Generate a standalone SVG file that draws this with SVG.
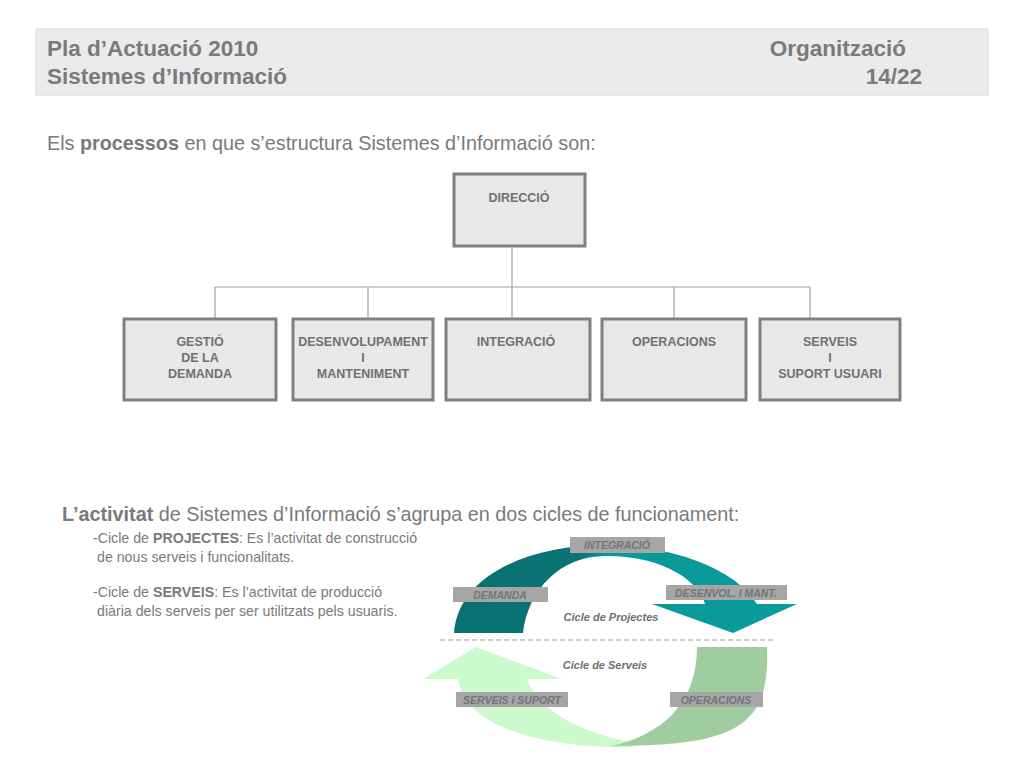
<svg xmlns="http://www.w3.org/2000/svg" width="1024" height="768" viewBox="0 0 1024 768">
<defs>
<style>
text{font-family:"Liberation Sans",Arial,sans-serif;}
.hdr{font-size:22.5px;font-weight:bold;fill:#7a7a7a;}
.body{font-size:19.8px;fill:#7a7a7a;}
.small{font-size:14.2px;fill:#7a7a7a;}
.b{font-weight:bold;}
.box{fill:#e8e8e8;stroke:#808080;stroke-width:3;}
.bt{font-size:12.5px;font-weight:bold;fill:#707070;text-anchor:middle;}
.conn{stroke:#a0a0a0;stroke-width:1.2;fill:none;}
.lbl{fill:#a6a6a6;}
.lt{font-size:10.5px;font-weight:bold;font-style:italic;fill:#747474;text-anchor:middle;}
.cap{font-size:11px;font-weight:bold;font-style:italic;fill:#6e6e6e;text-anchor:middle;}
</style>
<linearGradient id="teal" gradientUnits="userSpaceOnUse" x1="454" y1="0" x2="797" y2="0">
<stop offset="0" stop-color="#0a7070"/>
<stop offset="0.36" stop-color="#0a7474"/>
<stop offset="0.45" stop-color="#0a9898"/>
<stop offset="1" stop-color="#0a9c9c"/>
</linearGradient>
</defs>
<rect width="1024" height="768" fill="#ffffff"/>

<g id="header">
<rect x="36" y="29" width="952" height="66" fill="#ebebeb" stroke="#dadada" stroke-width="1"/>
<text class="hdr" x="47" y="56">Pla d’Actuació 2010</text>
<text class="hdr" x="47" y="84">Sistemes d’Informació</text>
<text class="hdr" x="906" y="56" text-anchor="end">Organització</text>
<text class="hdr" x="922" y="84" text-anchor="end">14/22</text>
</g>

<text class="body" x="47" y="150">Els <tspan class="b">processos</tspan> en que s’estructura Sistemes d’Informació son:</text>

<g id="connectors">
<line class="conn" x1="512" y1="247" x2="512" y2="319"/>
<line class="conn" x1="215" y1="287" x2="810" y2="287"/>
<line class="conn" x1="215" y1="287" x2="215" y2="319"/>
<line class="conn" x1="368" y1="287" x2="368" y2="319"/>
<line class="conn" x1="674" y1="287" x2="674" y2="319"/>
<line class="conn" x1="810" y1="287" x2="810" y2="319"/>
</g>

<g id="direccio">
<rect class="box" x="454" y="174" width="131" height="72"/>
<text class="bt" x="519" y="202">DIRECCIÓ</text>
</g>
<g id="gestio">
<rect class="box" x="124" y="319" width="152" height="81"/>
<text class="bt" x="200" y="346">GESTIÓ</text>
<text class="bt" x="200" y="362">DE LA</text>
<text class="bt" x="200" y="378">DEMANDA</text>
</g>
<g id="desenvolupament">
<rect class="box" x="293" y="319" width="140" height="81"/>
<text class="bt" x="363" y="346">DESENVOLUPAMENT</text>
<text class="bt" x="363" y="362">I</text>
<text class="bt" x="363" y="378">MANTENIMENT</text>
</g>
<g id="integracio">
<rect class="box" x="446" y="319" width="144" height="81"/>
<text class="bt" x="516" y="346">INTEGRACIÓ</text>
</g>
<g id="operacions">
<rect class="box" x="602" y="319" width="144" height="81"/>
<text class="bt" x="674" y="346">OPERACIONS</text>
</g>
<g id="serveis">
<rect class="box" x="760" y="319" width="140" height="81"/>
<text class="bt" x="830" y="346">SERVEIS</text>
<text class="bt" x="830" y="362">I</text>
<text class="bt" x="830" y="378">SUPORT USUARI</text>
</g>

<text class="body" x="62" y="521"><tspan class="b">L’activitat</tspan> de Sistemes d’Informació s’agrupa en dos cicles de funcionament:</text>
<text class="small" x="93" y="543">-Cicle de <tspan class="b">PROJECTES</tspan>: Es l’activitat de construcció</text>
<text class="small" x="97" y="562">de nous serveis i funcionalitats.</text>
<text class="small" x="93" y="597">-Cicle de <tspan class="b">SERVEIS</tspan>: Es l’activitat de producció</text>
<text class="small" x="97" y="616">diària dels serveis per ser utilitzats pels usuaris.</text>

<g id="cycles">
<path fill="url(#teal)" d="M454,633 C458,575 530,545 605,545 C670,545 735,568 757,604 L797,604 L733,633 L652,604 L705,604 C700,585 670,556 605,556 C560,556 528,590 523,633 Z"/>
<path fill="#ccfacc" d="M423,679 L476,647 L562,679 L527,679 C540,715 590,735 640,744 L630,747 C545,748 465,728 458,679 Z"/>
<path fill="#9fcd9f" d="M697,647 L767,647 C770,725 740,746 612,746 C660,735 697,705 697,647 Z"/>
<line x1="440" y1="640" x2="775" y2="640" stroke="#a0a0a0" stroke-width="1.2" stroke-dasharray="5,3"/>
<rect class="lbl" x="570" y="537" width="95" height="16"/>
<text class="lt" x="617" y="549">INTEGRACIÓ</text>
<rect class="lbl" x="453" y="587" width="95" height="15"/>
<text class="lt" x="500" y="599">DEMANDA</text>
<rect class="lbl" x="666" y="585" width="121" height="15"/>
<text class="lt" x="726" y="597">DESENVOL. I  MANT.</text>
<rect class="lbl" x="456" y="692" width="112" height="15"/>
<text class="lt" x="512" y="704">SERVEIS i SUPORT</text>
<rect class="lbl" x="670" y="692" width="93" height="15"/>
<text class="lt" x="716" y="704">OPERACIONS</text>
<text class="cap" x="611" y="621">Cicle de Projectes</text>
<text class="cap" x="605" y="669">Cicle de Serveis</text>
</g>
</svg>
